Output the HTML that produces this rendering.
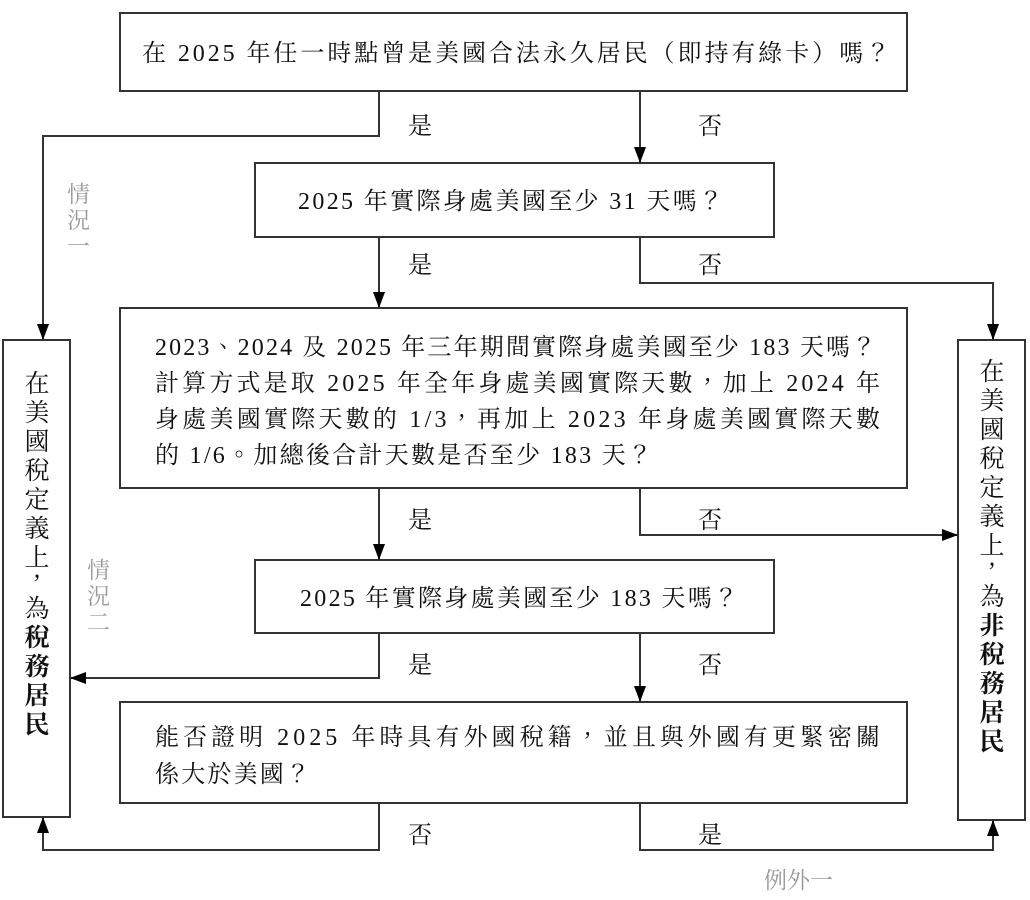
<!DOCTYPE html>
<html><head><meta charset="utf-8"><style>
html,body{margin:0;padding:0;background:#fff;}
svg{display:block;font-family:"Liberation Serif","Noto Serif CJK TC","Noto Sans CJK TC",serif;}
</style></head><body>
<svg width="1030" height="900" viewBox="0 0 1030 900" xmlns="http://www.w3.org/2000/svg">
<defs>
<marker id="a" markerWidth="16" markerHeight="12" refX="15" refY="6" orient="auto" markerUnits="userSpaceOnUse">
<path d="M0,0 L16,6 L0,12 Z" fill="#000"/>
</marker>
</defs>
<g fill="none" stroke="#333" stroke-width="2">
<rect x="120" y="13" width="787" height="78"/>
<rect x="255" y="163" width="519" height="74"/>
<rect x="120" y="308" width="787" height="180"/>
<rect x="255" y="560" width="519" height="73"/>
<rect x="120" y="702" width="787" height="101"/>
<rect x="3" y="340" width="67" height="477"/>
<rect x="958" y="340" width="67" height="480"/>
</g>
<g fill="none" stroke="#333" stroke-width="2" marker-end="url(#a)">
<polyline points="379,91 379,136 43,136 43,339"/>
<polyline points="640,91 640,162"/>
<polyline points="379,237 379,307"/>
<polyline points="640,237 640,283 993,283 993,339"/>
<polyline points="379,488 379,559"/>
<polyline points="640,488 640,535 957,535"/>
<polyline points="379,633 379,678 71,678"/>
<polyline points="640,633 640,701"/>
<polyline points="379,803 379,850 43,850 43,818"/>
<polyline points="640,803 640,850 993,850 993,821"/>
</g>
<g font-size="24" fill="#111">
<text x="142" y="61" textLength="748">在 2025 年任一時點曾是美國合法永久居民（即持有綠卡）嗎？</text>
<text x="298" y="209" textLength="425">2025 年實際身處美國至少 31 天嗎？</text>
<text x="155" y="355" textLength="721">2023、2024 及 2025 年三年期間實際身處美國至少 183 天嗎？</text>
<text x="155" y="391" textLength="725">計算方式是取 2025 年全年身處美國實際天數，加上 2024 年</text>
<text x="155" y="427" textLength="725">身處美國實際天數的 1/3，再加上 2023 年身處美國實際天數</text>
<text x="155" y="463" textLength="497">的 1/6。加總後合計天數是否至少 183 天？</text>
<text x="300" y="606" textLength="438">2025 年實際身處美國至少 183 天嗎？</text>
<text x="155" y="745" textLength="725">能否證明 2025 年時具有外國稅籍，並且與外國有更緊密關</text>
<text x="155" y="782" textLength="155">係大於美國？</text>
<text x="408" y="134">是</text><text x="698" y="134">否</text>
<text x="408" y="273">是</text><text x="698" y="273">否</text>
<text x="408" y="528">是</text><text x="698" y="528">否</text>
<text x="408" y="673">是</text><text x="698" y="673">否</text>
<text x="408" y="843">否</text><text x="698" y="843">是</text>
</g>
<g font-size="23" fill="#999">
<text x="67" y="202">情</text><text x="67" y="228">況</text><text x="67" y="254">一</text>
<text x="87" y="578">情</text><text x="87" y="604">況</text><text x="87" y="630">二</text>
<text x="764" y="888">例外一</text>
</g>
<g font-size="25" fill="#111" text-anchor="middle">
<text x="37" y="392">在</text><text x="37" y="421">美</text><text x="37" y="450">國</text><text x="37" y="479">稅</text><text x="37" y="508">定</text><text x="37" y="537">義</text><text x="37" y="566">上</text><text x="37" y="588">，</text><text x="37" y="617">為</text>
<text x="37" y="646" font-weight="bold">稅</text><text x="37" y="675" font-weight="bold">務</text><text x="37" y="704" font-weight="bold">居</text><text x="37" y="733" font-weight="bold">民</text>
<text x="992" y="380">在</text><text x="992" y="409">美</text><text x="992" y="438">國</text><text x="992" y="467">稅</text><text x="992" y="496">定</text><text x="992" y="525">義</text><text x="992" y="554">上</text><text x="992" y="576">，</text><text x="992" y="605">為</text>
<text x="992" y="634" font-weight="bold">非</text><text x="992" y="663" font-weight="bold">稅</text><text x="992" y="692" font-weight="bold">務</text><text x="992" y="721" font-weight="bold">居</text><text x="992" y="750" font-weight="bold">民</text>
</g>
</svg>
</body></html>
